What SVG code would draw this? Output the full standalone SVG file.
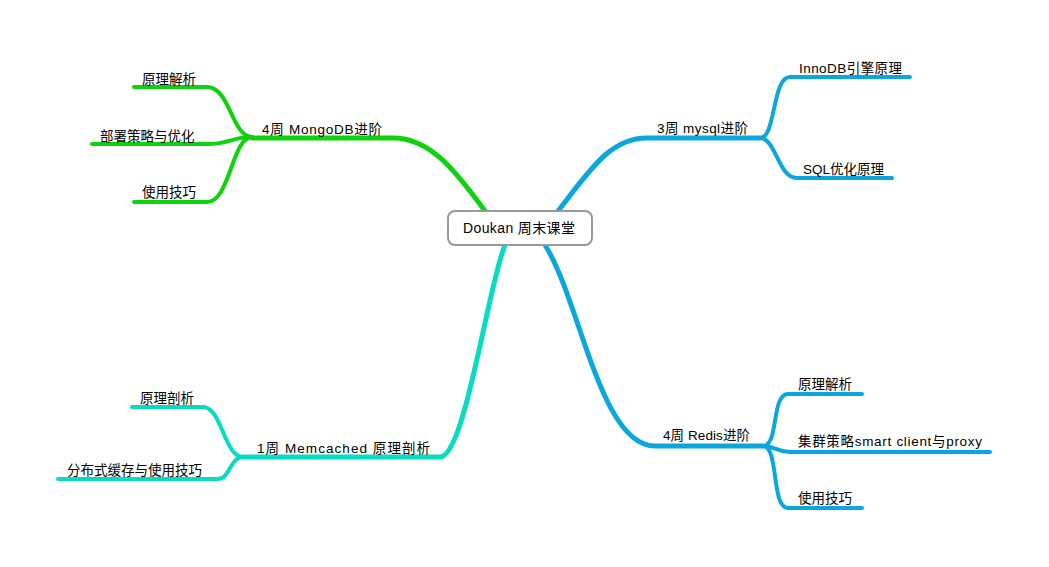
<svg xmlns="http://www.w3.org/2000/svg" width="1049" height="567" viewBox="0 0 1049 567">
<style>
text{font-family:"Liberation Sans","Noto Sans CJK SC",sans-serif;font-size:13.5px;fill:#000}
.c{fill:none;stroke-linecap:round;stroke-linejoin:round}
.m{stroke-width:5}
.s{stroke-width:4}
.g{stroke:#0dd20d}
.b{stroke:#0aa7de}
.t{stroke:#06dcbf}
</style>
<rect width="1049" height="567" fill="#fff"/>
<g id="connectors">
<path class="c m g" d="M485,211 C455,170 430,138 393,138 H252"/>
<path class="c s g" d="M252,137 C232,137 230,87 207,87 H134"/>
<path class="c s g" d="M252,137 C232,137 230,144 207,144 H92"/>
<path class="c s g" d="M252,137 C232,137 230,202 207,202 H134"/>
<path class="c m b" d="M558,211 C590,170 610,138 647,138 H760"/>
<path class="c s b" d="M760,138 C776,138 772,77 790,77 H910"/>
<path class="c s b" d="M760,138 C776,138 778,178 797,178 H892"/>
<path class="c m b" d="M545,245 C580,300 600,446 655,446 H763"/>
<path class="c s b" d="M763,446 C779,446 771,394 788,394 H862"/>
<path class="c s b" d="M763,446 C776,446 776,452 790,452 H990"/>
<path class="c s b" d="M763,446 C779,446 771,508 788,508 H862"/>
<path class="c m t" d="M505,245 C488,285 465,457 440,457 H243"/>
<path class="c s t" d="M243,457 C224,457 222,407 203,407 H132"/>
<path class="c s t" d="M243,457 C230,457 230,479 218,479 H58"/>
</g>
<g id="root">
<rect x="448" y="211" width="144" height="34" rx="7" fill="#fff" stroke="#999" stroke-width="2"/>
<text x="463" y="233" textLength="112" lengthAdjust="spacing" style="font-size:14px">Doukan 周末课堂</text>
</g>
<g id="mongo"><text x="262" y="134" textLength="120" lengthAdjust="spacing">4周 MongoDB进阶</text></g>
<g id="mongo-1"><text x="142" y="84">原理解析</text></g>
<g id="mongo-2"><text x="100" y="141">部署策略与优化</text></g>
<g id="mongo-3"><text x="142" y="197">使用技巧</text></g>
<g id="mysql"><text x="657" y="133" textLength="91" lengthAdjust="spacing">3周 mysql进阶</text></g>
<g id="mysql-1"><text x="799" y="73" textLength="103" lengthAdjust="spacing">InnoDB引擎原理</text></g>
<g id="mysql-2"><text x="803" y="174" textLength="81" lengthAdjust="spacing">SQL优化原理</text></g>
<g id="redis"><text x="663" y="440" textLength="87" lengthAdjust="spacing">4周 Redis进阶</text></g>
<g id="redis-1"><text x="798" y="389">原理解析</text></g>
<g id="redis-2"><text x="798" y="446" textLength="184" lengthAdjust="spacing">集群策略smart client与proxy</text></g>
<g id="redis-3"><text x="798" y="503">使用技巧</text></g>
<g id="memcached"><text x="257" y="453" textLength="173" lengthAdjust="spacing">1周 Memcached 原理剖析</text></g>
<g id="memcached-1"><text x="140" y="403">原理剖析</text></g>
<g id="memcached-2"><text x="67" y="475">分布式缓存与使用技巧</text></g>
</svg>
